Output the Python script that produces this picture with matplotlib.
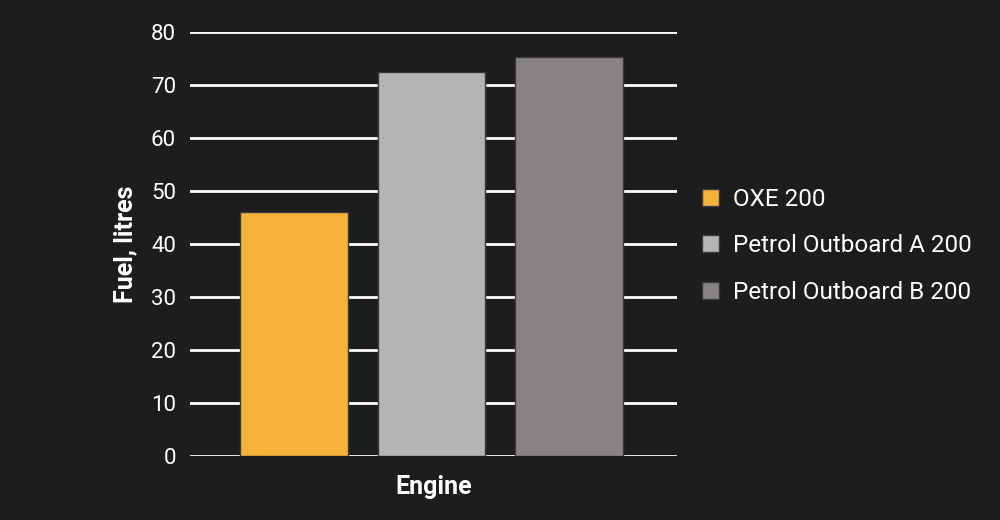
import matplotlib.pyplot as plt
from matplotlib.patches import Patch

# data
engines = ["OXE 200", "Petrol Outboard A 200", "Petrol Outboard B 200"]
fuel_litres = [46.1, 72.5, 75.3]
bar_colors = ["#F7B239", "#B4B4B4", "#888483"]
y_ticks = [0, 10, 20, 30, 40, 50, 60, 70, 80]

bg = "#1d1d1d"
plt.rcParams["font.family"] = ["Roboto", "DejaVu Sans"]

fig = plt.figure(figsize=(10, 5.2), dpi=100, facecolor=bg)
ax = fig.add_axes([0.19, 0.123, 0.487, 0.815], facecolor=bg)

x = list(range(len(engines)))
ax.bar(x, fuel_litres, width=0.785, color=bar_colors, edgecolor="#3a3a3a",
       linewidth=1, zorder=3)

ax.set_xlim(-0.756, 2.785)
ax.set_ylim(0, 80)
ax.set_yticks(y_ticks)
ax.set_xticks([])
ax.grid(axis="y", color="white", linewidth=2, zorder=1)
for s in ax.spines.values():
    s.set_visible(False)
ax.tick_params(axis="y", length=0, colors="white", labelsize=16, pad=10)

ax.set_ylabel("Fuel, litres", color="white", fontsize=18, fontweight="bold", labelpad=10)
ax.set_xlabel("Engine", color="white", fontsize=18, fontweight="bold", labelpad=14)

handles = [Patch(facecolor=c, edgecolor="#3a3a3a") for c in bar_colors]
leg = fig.legend(handles, engines, loc="center left", bbox_to_anchor=(0.68, 0.527),
                 frameon=False, fontsize=17.5, labelcolor="white",
                 handlelength=0.7, handleheight=0.7, handletextpad=0.6,
                 labelspacing=0.95)

fig.savefig("out.png", dpi=100, facecolor=bg)
